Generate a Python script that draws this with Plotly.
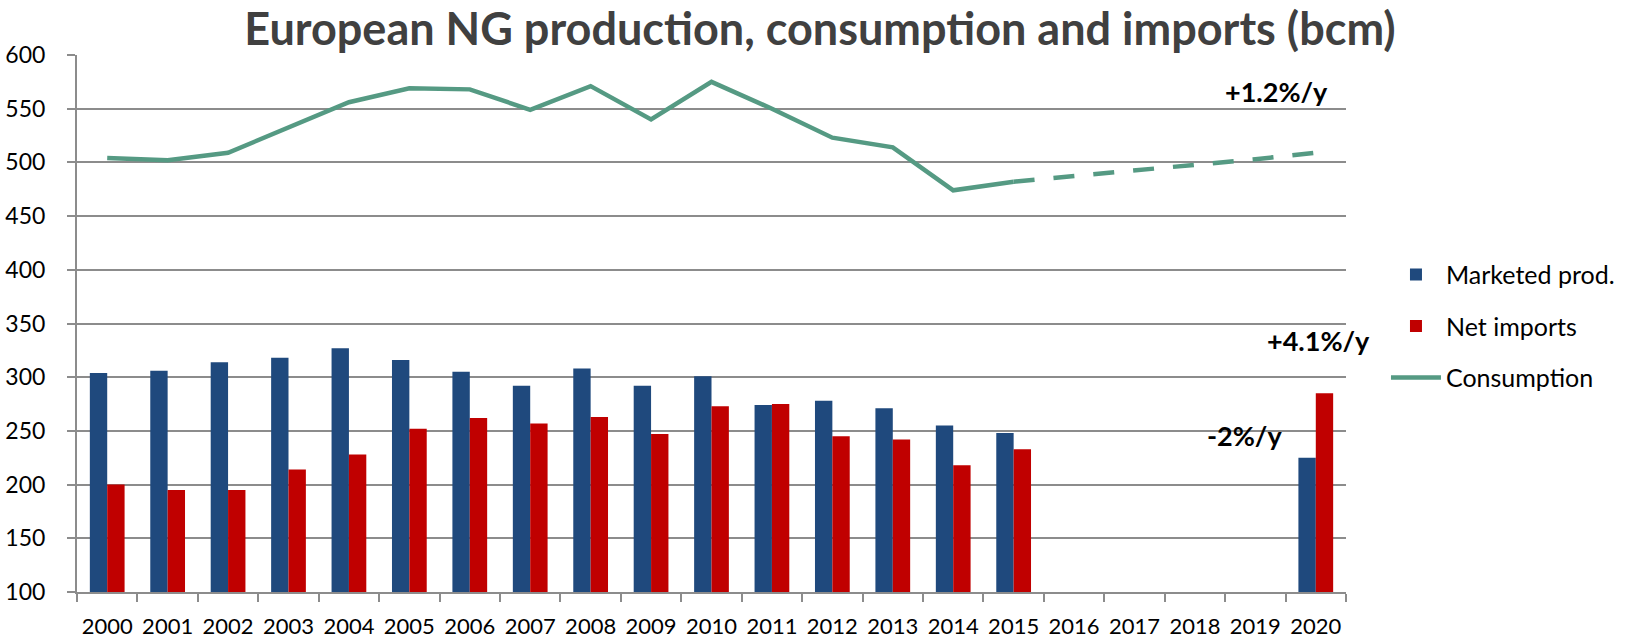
import plotly.graph_objects as go

years = [str(y) for y in range(2000, 2021)]
marketed_prod = [304, 306, 314, 318, 327, 316, 305, 292, 308, 292, 301, 274, 278, 271, 255, 248,
                 None, None, None, None, 225]
net_imports = [200, 195, 195, 214, 228, 252, 262, 257, 263, 247, 273, 275, 245, 242, 218, 233,
               None, None, None, None, 285]
consumption_years = [str(y) for y in range(2000, 2016)]
consumption = [504, 502, 509, 533, 556, 569, 568, 549, 571, 540, 575, 550, 523, 514, 474, 482]
projection_years = [str(y) for y in range(2015, 2021)]
projection = [482, 487, 492, 498, 503, 509]

BLUE = "#1F497D"
RED = "#C00000"
GREEN = "#559A83"
FONT = "Lato"

fig = go.Figure()
fig.add_trace(go.Bar(x=years, y=marketed_prod, name="Marketed prod.", marker_color=BLUE,
                     marker_line_width=0, legendgroup="a"))
fig.add_trace(go.Bar(x=years, y=net_imports, name="Net imports", marker_color=RED,
                     marker_line_width=0, legendgroup="b"))
fig.add_trace(go.Scatter(x=consumption_years, y=consumption, name="Consumption", mode="lines",
                         line=dict(color=GREEN, width=4.5), legendgroup="c"))
fig.add_trace(go.Scatter(x=projection_years, y=projection, name="Consumption projection",
                         mode="lines", showlegend=False, legendgroup="c",
                         line=dict(color=GREEN, width=4.5, dash="21px,19px")))

fig.update_layout(
    width=1629, height=639,
    margin=dict(l=77, r=283, t=55, b=47, autoexpand=False),
    paper_bgcolor="white", plot_bgcolor="white",
    barmode="group", bargap=0.425, bargroupgap=0,
    font=dict(family=FONT, color="black", size=22),
    title=dict(text="<b>European NG production, consumption and imports (bcm)</b>",
               x=820 / 1629, xanchor="center", y=1 - 29 / 639, yanchor="middle",
               font=dict(family=FONT, size=45, color="#404040")),
    legend=dict(x=1.0315, xanchor="left", y=0.495, yanchor="middle",
                font=dict(family=FONT, size=25, color="black"),
                itemwidth=50, tracegroupgap=16, bgcolor="rgba(0,0,0,0)"),
    showlegend=True,
)
fig.update_xaxes(type="category", categoryorder="array", categoryarray=years,
                 showline=True, linecolor="#8C8C8C", linewidth=2,
                 ticks="outside", tickson="boundaries", ticklen=8, tickwidth=2, tickcolor="#8C8C8C",
                 showgrid=False, tickangle=0,
                 tickfont=dict(family=FONT, size=22, color="black"),
                 ticklabelstandoff=14)
fig.update_yaxes(range=[100, 600], dtick=50, tick0=100,
                 showline=True, linecolor="#8C8C8C", linewidth=2,
                 showgrid=True, gridcolor="#8C8C8C", gridwidth=2,
                 ticks="outside", ticklen=8, tickwidth=2, tickcolor="#8C8C8C",
                 tickfont=dict(family=FONT, size=23, color="black"),
                 ticklabelstandoff=17, zeroline=False)

annots = [("+1.2%/y", 0.945, 566), ("+4.1%/y", 0.978, 334), ("-2%/y", 0.920, 246)]
for text, xp, yv in annots:
    fig.add_annotation(text=f"<b>{text}</b>", x=xp, xref="paper", y=yv, yref="y",
                       showarrow=False, font=dict(family=FONT, size=27, color="black"),
                       xanchor="center", yanchor="middle")

fig.write_html("out.html", config={"displayModeBar": False},
               post_script="document.body.style.margin='0';document.body.style.padding='0';")
